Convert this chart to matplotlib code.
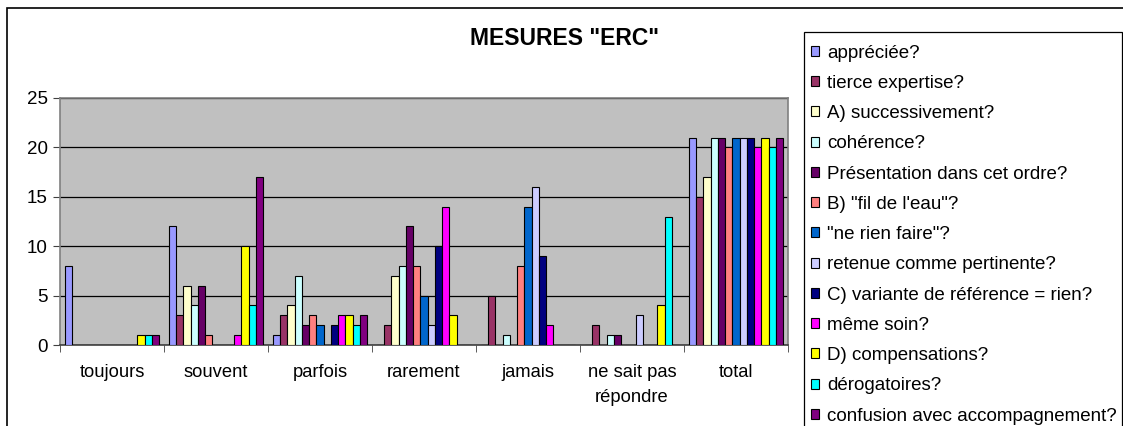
import numpy as np
import matplotlib
matplotlib.use("Agg")
import matplotlib.pyplot as plt
from matplotlib.patches import Rectangle

plt.rcParams['font.family'] = ['Liberation Sans', 'DejaVu Sans']

categories = ["toujours", "souvent", "parfois", "rarement", "jamais",
              "ne sait pas\nrépondre", "total"]

series_names = [
    "appréciée?",
    "tierce expertise?",
    "A) successivement?",
    "cohérence?",
    "Présentation dans cet ordre?",
    "B) \"fil de l'eau\"?",
    "\"ne rien faire\"?",
    "retenue comme pertinente?",
    "C) variante de référence = rien?",
    "même soin?",
    "D) compensations?",
    "dérogatoires?",
    "confusion avec accompagnement?",
]

# one list per series, values per category (toujours ... total)
appreciee = [8, 12, 1, 0, 0, 0, 21]
tierce = [0, 3, 3, 2, 5, 2, 15]
successivement = [0, 6, 4, 7, 0, 0, 17]
coherence = [0, 4, 7, 8, 1, 1, 21]
presentation = [0, 6, 2, 12, 0, 1, 21]
fil_eau = [0, 1, 3, 8, 8, 0, 20]
rien_faire = [0, 0, 2, 5, 14, 0, 21]
retenue = [0, 0, 0, 2, 16, 3, 21]
variante = [0, 0, 2, 10, 9, 0, 21]
meme_soin = [0, 1, 3, 14, 2, 0, 20]
compensations = [1, 10, 3, 3, 0, 4, 21]
derogatoires = [1, 4, 2, 0, 0, 13, 20]
confusion = [1, 17, 3, 0, 0, 0, 21]

values = [appreciee, tierce, successivement, coherence, presentation, fil_eau,
          rien_faire, retenue, variante, meme_soin, compensations,
          derogatoires, confusion]

colors = ["#9999FF", "#993366", "#FFFFCC", "#CCFFFF", "#660066", "#FF8080",
          "#0066CC", "#CCCCFF", "#000080", "#FF00FF", "#FFFF00", "#00FFFF",
          "#800080"]

fig = plt.figure(figsize=(11.23, 4.26), dpi=100)
ax = fig.add_axes([60 / 1123, 81 / 426, 728 / 1123, 247 / 426])
ax.set_facecolor("#C0C0C0")

n = len(values)
group = 0.91
w = group / n
x = np.arange(len(categories))
for i, (vals, name, col) in enumerate(zip(values, series_names, colors)):
    ax.bar(x - group / 2 + w * (i + 0.5), vals, width=w, color=col,
           edgecolor="black", linewidth=0.8, label=name, zorder=3)

ax.set_xlim(-0.5, len(categories) - 0.5)
ax.set_ylim(0, 25)
ax.set_yticks([0, 5, 10, 15, 20, 25])
ax.grid(axis="y", color="black", linewidth=0.9, zorder=1)
ax.set_axisbelow(True)

ax.set_xticks(x)
ax.set_xticklabels(categories)
ax.set_xticks(np.arange(len(categories) + 1) - 0.5, minor=True)
ax.tick_params(axis="x", which="major", length=0, pad=14, labelsize=13.2)
ax.tick_params(axis="x", which="minor", length=5, color="#404040")
ax.tick_params(axis="y", length=5, color="#404040", labelsize=13.5, pad=4)
for lab in ax.get_xticklabels():
    lab.set_linespacing(1.55)
    lab.set_verticalalignment("top")

for sp in ax.spines.values():
    sp.set_color("#808080")
    sp.set_linewidth(1.2)
ax.spines["bottom"].set_color("#404040")

fig.text(565 / 1123, 1 - 38.5 / 426, 'MESURES "ERC"', ha="center", va="center",
         fontsize=16.5, fontweight="bold")

# legend entries without frame, frame drawn separately (runs off the bottom)
leg = fig.legend(loc="upper left",
                 bbox_to_anchor=(811 / 1123, 1 - 44.5 / 426),
                 frameon=False, fontsize=13.5, handlelength=0.45,
                 handleheight=0.45, handletextpad=0.42, labelspacing=0.707,
                 borderpad=0, borderaxespad=0)
for h in leg.legend_handles:
    h.set_linewidth(0.8)

fig.patches.append(Rectangle((804 / 1123, -0.1), 318 / 1123, 1 - 32 / 426 + 0.1,
                             transform=fig.transFigure, fill=False,
                             edgecolor="black", linewidth=0.9))

# outer chart frame (cut off at right and bottom)
fig.patches.append(Rectangle((7 / 1123, -0.1), 1.2, 1 - 8 / 426 + 0.1,
                             transform=fig.transFigure, fill=False,
                             edgecolor="black", linewidth=1.2))

fig.savefig("out.png", dpi=100)
